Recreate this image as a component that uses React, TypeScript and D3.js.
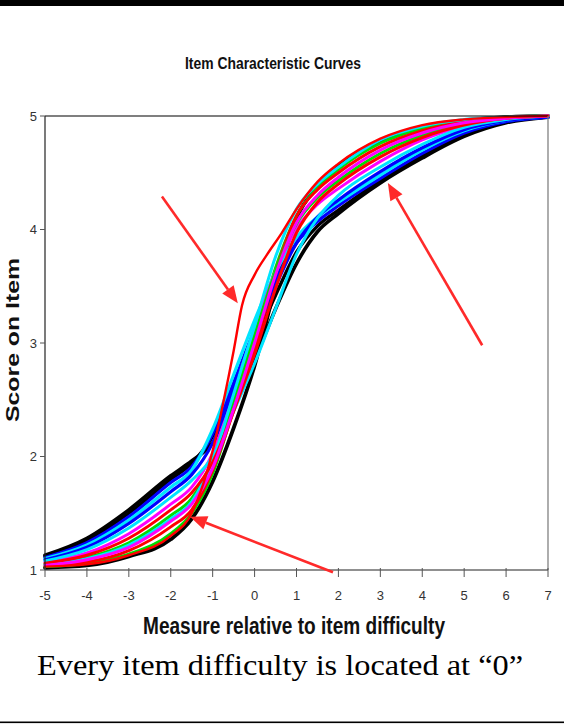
import React from "react";
import * as d3 from "d3";

// ---------- data ----------
const X_GRID = [-5, -4, -3, -2, -1.5, -1, -0.5, 0, 0.5, 1, 1.5, 2, 3, 4, 5, 6, 7];

const F1_BLACK = [1.13, 1.28, 1.53, 1.83, 1.96, 2.12, 2.45, 2.85, 3.3, 3.7, 3.98, 4.14, 4.41, 4.63, 4.82, 4.94, 4.99];
const F1B_BLACK = [1.12, 1.26, 1.5, 1.8, 1.94, 2.18, 2.58, 3.0, 3.42, 3.8, 4.03, 4.17, 4.43, 4.65, 4.84, 4.95, 4.99];
const F2_BLUE = [1.11, 1.24, 1.47, 1.77, 1.91, 2.2, 2.65, 3.12, 3.55, 3.88, 4.07, 4.21, 4.45, 4.67, 4.85, 4.95, 4.99];
const F3_CYAN = [1.1, 1.22, 1.44, 1.73, 1.88, 2.24, 2.72, 3.2, 3.62, 3.93, 4.11, 4.24, 4.48, 4.7, 4.87, 4.96, 4.99];
const F4_BLUE = [1.09, 1.2, 1.41, 1.69, 1.84, 2.12, 2.6, 3.05, 3.5, 3.88, 4.11, 4.26, 4.51, 4.72, 4.88, 4.96, 4.99];
const F5_CYAN = [1.08, 1.18, 1.37, 1.64, 1.79, 2.0, 2.4, 2.82, 3.3, 3.78, 4.1, 4.3, 4.55, 4.75, 4.9, 4.97, 5.0];
const M1_MAGENTA = [1.07, 1.15, 1.32, 1.58, 1.73, 2.03, 2.57, 3.12, 3.63, 4.01, 4.22, 4.36, 4.6, 4.79, 4.91, 4.97, 5.0];
const M2_RED = [1.06, 1.13, 1.28, 1.53, 1.68, 1.95, 2.4, 2.9, 3.48, 3.97, 4.24, 4.4, 4.64, 4.81, 4.92, 4.98, 5.0];
const M3_GREEN = [1.05, 1.11, 1.24, 1.48, 1.63, 1.97, 2.5, 3.07, 3.63, 4.05, 4.28, 4.43, 4.67, 4.83, 4.93, 4.98, 5.0];
const M4_MAGENTA = [1.04, 1.09, 1.2, 1.43, 1.58, 1.9, 2.42, 3.0, 3.6, 4.06, 4.3, 4.46, 4.7, 4.85, 4.94, 4.98, 5.0];
const S0_CYAN = [1.05, 1.1, 1.22, 1.45, 1.6, 1.97, 2.55, 3.15, 3.76, 4.18, 4.4, 4.55, 4.79, 4.91, 4.97, 4.99, 5.0];
const S1_RED = [1.04, 1.07, 1.17, 1.38, 1.53, 1.88, 2.4, 2.95, 3.62, 4.12, 4.35, 4.5, 4.73, 4.87, 4.95, 4.99, 5.0];
const S2_GREEN = [1.03, 1.06, 1.14, 1.32, 1.5, 1.85, 2.42, 3.02, 3.66, 4.12, 4.37, 4.53, 4.76, 4.89, 4.96, 4.99, 5.0];
const S3_BLACK = [1.02, 1.04, 1.12, 1.27, 1.45, 1.78, 2.25, 2.8, 3.5, 4.1, 4.38, 4.56, 4.78, 4.9, 4.96, 4.99, 5.0];

const OUTLIER_X = [-5, -4, -3, -2, -1.5, -1, -0.75, -0.5, -0.3, 0, 0.3, 0.65, 1, 1.5, 2, 3, 4, 5, 6, 7];
const OUTLIER_RED = [1.03, 1.05, 1.13, 1.3, 1.5, 2.05, 2.47, 2.93, 3.33, 3.6, 3.78, 3.97, 4.18, 4.42, 4.58, 4.8, 4.92, 4.97, 4.99, 5.0];

const CURVES: { values: number[]; color: string; width: number }[] = [
  { values: F1_BLACK, color: "#000000", width: 3.6 },
  { values: F1B_BLACK, color: "#000000", width: 3.4 },
  { values: S3_BLACK, color: "#000000", width: 3.8 },
  { values: F2_BLUE, color: "#0000ff", width: 3.2 },
  { values: S2_GREEN, color: "#00dd00", width: 3 },
  { values: F3_CYAN, color: "#00e5ff", width: 3.2 },
  { values: M1_MAGENTA, color: "#ff00ff", width: 3 },
  { values: F4_BLUE, color: "#0000ff", width: 3.2 },
  { values: S1_RED, color: "#ff0000", width: 3 },
  { values: F5_CYAN, color: "#00e5ff", width: 3 },
  { values: M3_GREEN, color: "#00dd00", width: 3 },
  { values: S0_CYAN, color: "#00e5ff", width: 3 },
  { values: M2_RED, color: "#ff0000", width: 3 },
  { values: M4_MAGENTA, color: "#ff00ff", width: 3 },
];

const X_TICKS = [-5, -4, -3, -2, -1, 0, 1, 2, 3, 4, 5, 6, 7];
const Y_TICKS = [1, 2, 3, 4, 5];

// annotation arrows in data units: [fromX, fromY, toX, toY]
const ARROWS = [
  [-2.21, 4.29, -0.4, 3.35],
  [5.43, 2.98, 3.18, 4.41],
  [1.87, 0.98, -1.54, 1.47],
];

const TITLE = "Item Characteristic Curves";
const X_LABEL = "Measure relative to item difficulty";
const Y_LABEL = "Score on Item";
const CAPTION = "Every item difficulty is located at \u201C0\u201D";

// ---------- layout ----------
const W = 564;
const H = 725;
const PLOT = { left: 45, right: 548, top: 116, bottom: 570 };

const NARROW = "'Liberation Sans Narrow', 'Arial Narrow', 'Liberation Sans', Arial, sans-serif";

export default function App() {
  const x = d3.scaleLinear().domain([-5, 7]).range([PLOT.left, PLOT.right]);
  const y = d3.scaleLinear().domain([1, 5]).range([PLOT.bottom, PLOT.top]);

  const lineGen = (xs: number[]) =>
    d3
      .line<number>()
      .x((_, i) => x(xs[i]))
      .y((v) => y(v))
      .curve(d3.curveMonotoneX);

  const arrowEls = ARROWS.map(([fx, fy, tx, ty], i) => {
    const x1 = x(fx), y1 = y(fy), x2 = x(tx), y2 = y(ty);
    const ang = Math.atan2(y2 - y1, x2 - x1);
    const hl = 17, hw = 7;
    const bx = x2 - hl * Math.cos(ang), by = y2 - hl * Math.sin(ang);
    const px = -Math.sin(ang) * hw, py = Math.cos(ang) * hw;
    return (
      <g key={i}>
        <line x1={x1} y1={y1} x2={bx} y2={by} stroke="#ff2a2a" strokeWidth={2.6} />
        <polygon
          points={`${x2},${y2} ${bx + px},${by + py} ${bx - px},${by - py}`}
          fill="#ff2a2a"
        />
      </g>
    );
  });

  return (
    <svg
      width={W}
      height={H}
      style={{ position: "absolute", left: 0, top: 0, background: "#fff" }}
    >
      <rect x={0} y={0} width={W} height={H} fill="#fff" />
      {/* top bar */}
      <rect x={0} y={0} width={W} height={6} fill="#000" />
      {/* bottom rule */}
      <rect x={0} y={721.5} width={W} height={1.6} fill="#000" />

      {/* title */}
      <text
        x={273}
        y={69}
        textAnchor="middle"
        fontFamily={NARROW}
        fontWeight="bold"
        fontSize={17}
        textLength={176}
        lengthAdjust="spacingAndGlyphs"
        fill="#111"
      >
        {TITLE}
      </text>

      {/* curves */}
      <g fill="none" strokeLinejoin="round" strokeLinecap="round">
        {CURVES.map((c, i) => (
          <path key={i} d={lineGen(X_GRID)(c.values) || ""} stroke={c.color} strokeWidth={c.width} />
        ))}
        <path d={lineGen(OUTLIER_X)(OUTLIER_RED) || ""} stroke="#ff0000" strokeWidth={2.4} />
      </g>

      {/* frame */}
      <line x1={PLOT.left} y1={PLOT.top} x2={PLOT.right} y2={PLOT.top} stroke="#000" strokeWidth={1.2} />
      <line x1={PLOT.right} y1={PLOT.top} x2={PLOT.right} y2={PLOT.bottom} stroke="#777" strokeWidth={1.2} />
      <line x1={PLOT.left} y1={PLOT.top} x2={PLOT.left} y2={PLOT.bottom} stroke="#222" strokeWidth={1.2} />
      <line x1={PLOT.left} y1={PLOT.bottom} x2={PLOT.right} y2={PLOT.bottom} stroke="#222" strokeWidth={1.2} />

      {/* y ticks */}
      {Y_TICKS.map((t) => (
        <g key={t}>
          <line x1={PLOT.left - 5} x2={PLOT.left} y1={y(t)} y2={y(t)} stroke="#555" strokeWidth={1} />
          <text
            x={PLOT.left - 8}
            y={y(t) + 4.5}
            textAnchor="end"
            fontFamily={NARROW}
            fontSize={13}
            fill="#333"
          >
            {t}
          </text>
        </g>
      ))}

      {/* x ticks */}
      {X_TICKS.map((t) => (
        <g key={t}>
          <line x1={x(t)} x2={x(t)} y1={PLOT.bottom - 2} y2={PLOT.bottom + 7} stroke="#555" strokeWidth={1} />
          <text
            x={x(t)}
            y={600}
            textAnchor="middle"
            fontFamily={NARROW}
            fontSize={13}
            fill="#333"
          >
            {t}
          </text>
        </g>
      ))}

      {/* arrows */}
      {arrowEls}

      {/* axis labels */}
      <text
        x={294}
        y={634}
        textAnchor="middle"
        fontFamily={NARROW}
        fontWeight="bold"
        fontSize={23}
        textLength={302}
        lengthAdjust="spacingAndGlyphs"
        fill="#111"
      >
        {X_LABEL}
      </text>
      <text
        transform={`translate(19,340) rotate(-90)`}
        textAnchor="middle"
        fontFamily="'Liberation Sans', Arial, sans-serif"
        fontWeight="bold"
        fontSize={18}
        textLength={164}
        lengthAdjust="spacingAndGlyphs"
        fill="#111"
      >
        {Y_LABEL}
      </text>

      {/* caption */}
      <text
        x={37}
        y={675}
        fontFamily="'Liberation Serif', 'Times New Roman', serif"
        fontSize={30}
        textLength={486}
        lengthAdjust="spacingAndGlyphs"
        fill="#000"
      >
        {CAPTION}
      </text>
    </svg>
  );
}
